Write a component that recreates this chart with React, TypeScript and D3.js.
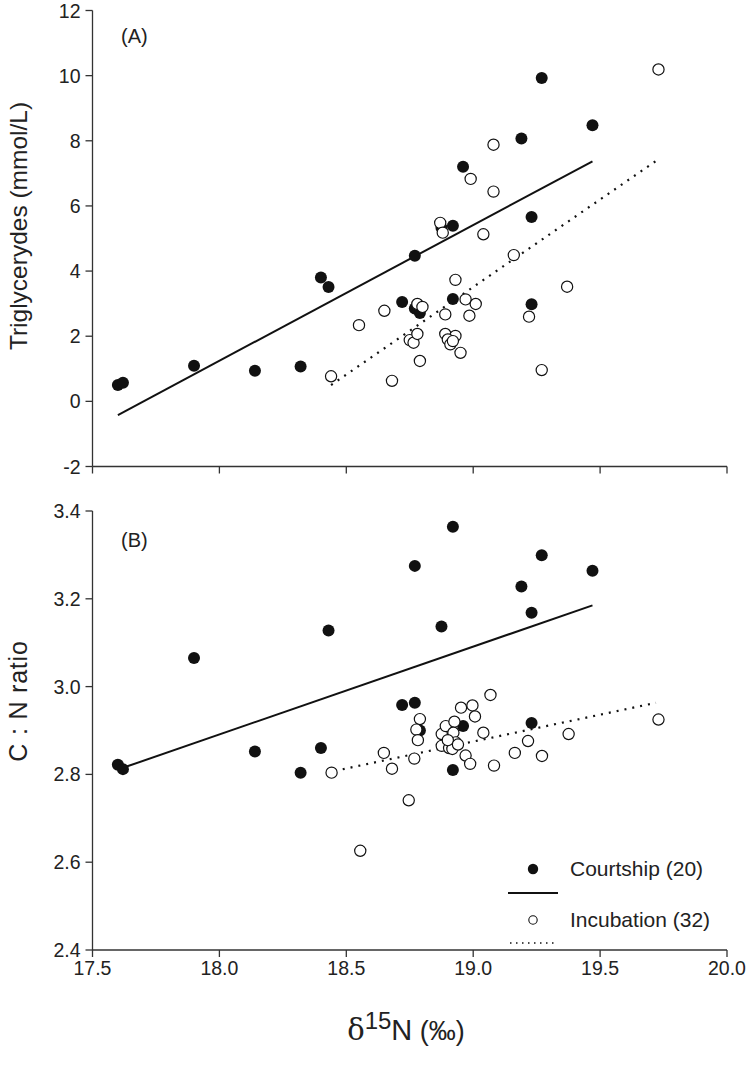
import React from 'react';
import * as d3 from 'd3';

// ---------- data ----------
const xTickValues = [17.5, 18.0, 18.5, 19.0, 19.5, 20.0];
const trigTicks = [-2, 0, 2, 4, 6, 8, 10, 12];
const cnTicks = [2.4, 2.6, 2.8, 3.0, 3.2, 3.4];

const courtshipN15 = [17.60, 17.62, 17.90, 18.14, 18.32, 18.40, 18.43, 18.72, 18.77, 18.77,
  18.79, 18.875, 18.92, 18.92, 18.96, 19.19, 19.23, 19.23, 19.27, 19.47];
const courtshipTG = [0.50, 0.57, 1.09, 0.94, 1.07, 3.80, 3.51, 3.05, 4.47, 2.85,
  2.71, 5.33, 5.39, 3.14, 7.20, 8.07, 5.66, 2.98, 9.93, 8.48];
const courtshipCN = [2.822, 2.812, 3.065, 2.852, 2.804, 2.860, 3.128, 2.958, 2.963, 3.275,
  2.900, 3.137, 3.364, 2.810, 2.910, 3.228, 3.168, 2.917, 3.299, 3.264];

const incubationA_N15 = [18.44, 18.55, 18.65, 18.68, 18.75, 18.765, 18.78, 18.78, 18.79, 18.87,
  18.88, 18.89, 18.89, 18.93, 18.90, 18.91, 18.92, 18.95, 18.93, 18.97,
  18.985, 19.01, 18.99, 19.04, 19.08, 19.08, 19.16, 19.22, 19.27, 19.37,
  19.73, 18.80];
const incubationA_TG = [0.77, 2.34, 2.78, 0.63, 1.88, 1.80, 2.99, 2.07, 1.24, 5.48,
  5.18, 2.67, 2.07, 2.01, 1.90, 1.75, 1.85, 1.49, 3.73, 3.13,
  2.63, 2.99, 6.83, 5.13, 7.88, 6.44, 4.49, 2.60, 0.96, 3.52,
  10.19, 2.90];

const incubationB_N15 = [18.876, 18.892, 18.926, 18.922, 18.931, 18.876, 18.905, 18.918, 18.97, 18.988,
  18.952, 18.997, 19.007, 19.04, 19.082, 19.068, 18.79, 18.776, 18.782, 18.768,
  18.648, 18.68, 18.746, 18.442, 19.164, 19.216, 19.271, 19.376, 18.555, 19.73,
  18.90, 18.94];
const incubationB_CN = [2.892, 2.910, 2.920, 2.895, 2.873, 2.865, 2.860, 2.858, 2.843, 2.824,
  2.952, 2.957, 2.932, 2.895, 2.820, 2.981, 2.926, 2.902, 2.878, 2.836,
  2.849, 2.813, 2.741, 2.804, 2.849, 2.876, 2.842, 2.892, 2.626, 2.925,
  2.878, 2.868];

// fitted regression lines (endpoints)
const fitA_courtship = [[17.60, -0.42], [19.47, 7.37]];
const fitA_incubation = [[18.44, 0.50], [19.72, 7.38]];
const fitB_courtship = [[17.62, 2.815], [19.47, 3.185]];
const fitB_incubation = [[18.455, 2.808], [19.72, 2.963]];

const legendLabels = ['Courtship (20)', 'Incubation (32)'];

// ---------- layout ----------
const W = 749;
const H = 1066;
const left = 92.5;
const right = 727;
const panelA = { top: 10.5, bottom: 466.5 };
const panelB = { top: 511, bottom: 950 };
const FONT = 'Liberation Sans, Arial, Helvetica, sans-serif';
const AX = '#333';

const x = d3.scaleLinear().domain([17.5, 20]).range([left, right]);
const yA = d3.scaleLinear().domain([-2, 12]).range([panelA.bottom, panelA.top]);
const yB = d3.scaleLinear().domain([2.4, 3.4]).range([panelB.bottom, panelB.top]);

function Axes({ y, ticks, bottom, top, showX, fmt }) {
  return (
    <g>
      <line x1={left} x2={left} y1={top} y2={bottom} stroke={AX} strokeWidth={1.3} />
      <line x1={left} x2={right} y1={bottom} y2={bottom} stroke={AX} strokeWidth={1.3} />
      {ticks.map((t) => (
        <g key={'y' + t}>
          <line x1={left - 7} x2={left} y1={y(t)} y2={y(t)} stroke={AX} strokeWidth={1.3} />
          <text x={left - 12} y={y(t)} dy="0.36em" textAnchor="end" fontSize={19.5} fontFamily={FONT} fill="#222">
            {fmt(t)}
          </text>
        </g>
      ))}
      {xTickValues.map((t) => (
        <g key={'x' + t}>
          <line x1={x(t)} x2={x(t)} y1={bottom} y2={bottom + 7} stroke={AX} strokeWidth={1.3} />
          {showX && (
            <text x={x(t)} y={bottom + 25} textAnchor="middle" fontSize={19.5} fontFamily={FONT} fill="#222">
              {t.toFixed(1)}
            </text>
          )}
        </g>
      ))}
    </g>
  );
}

function Panel({ y, cx, cy, ix, iy, fitC, fitI }) {
  const line = d3.line().x((d) => x(d[0])).y((d) => y(d[1]));
  return (
    <g>
      <path d={line(fitC) || ''} stroke="#111" strokeWidth={2} fill="none" />
      <path d={line(fitI) || ''} stroke="#111" strokeWidth={2.2} fill="none" strokeDasharray="2 6" />
      {cx.map((v, i) => (
        <circle key={'c' + i} cx={x(v)} cy={y(cy[i])} r={6} fill="#111" />
      ))}
      {ix.map((v, i) => (
        <circle key={'i' + i} cx={x(v)} cy={y(iy[i])} r={5.6} fill="#fff" stroke="#111" strokeWidth={1.2} />
      ))}
    </g>
  );
}

export default function App() {
  return (
    <svg width={W} height={H} style={{ position: 'absolute', left: 0, top: 0, background: '#fff' }}>
      <rect x={0} y={0} width={W} height={H} fill="#fff" />
      <Axes y={yA} ticks={trigTicks} bottom={panelA.bottom} top={panelA.top} showX={false} fmt={(t) => String(t)} />
      <Axes y={yB} ticks={cnTicks} bottom={panelB.bottom} top={panelB.top} showX={true} fmt={(t) => t.toFixed(1)} />
      <Panel y={yA} cx={courtshipN15} cy={courtshipTG} ix={incubationA_N15} iy={incubationA_TG} fitC={fitA_courtship} fitI={fitA_incubation} />
      <Panel y={yB} cx={courtshipN15} cy={courtshipCN} ix={incubationB_N15} iy={incubationB_CN} fitC={fitB_courtship} fitI={fitB_incubation} />

      <text x={121} y={43} fontSize={20} fontFamily={FONT} fill="#222">(A)</text>
      <text x={121} y={547} fontSize={20} fontFamily={FONT} fill="#222">(B)</text>

      <text transform="translate(27,226) rotate(-90)" textAnchor="middle" fontSize={24.5} fontFamily={FONT} fill="#222">
        Triglycerydes (mmol/L)
      </text>
      <text transform="translate(27,701) rotate(-90)" textAnchor="middle" fontSize={25} fontFamily={FONT} fill="#222" letterSpacing={0.8}>
        C : N ratio
      </text>

      <text x={406} y={1040} textAnchor="middle" fontFamily={FONT} fill="#222">
        <tspan fontSize={29} fontFamily="DejaVu Serif, serif">δ</tspan>
        <tspan fontSize={24} dy={-11}>15</tspan>
        <tspan fontSize={29} dy={11}>N</tspan>
        <tspan fontSize={27}> (‰)</tspan>
      </text>

      {/* legend */}
      <circle cx={533} cy={869} r={5.2} fill="#111" />
      <text x={570} y={876} fontSize={21} fontFamily={FONT} fill="#222">{legendLabels[0]}</text>
      <line x1={508} x2={558} y1={893} y2={893} stroke="#111" strokeWidth={2} />
      <circle cx={533} cy={920} r={4.2} fill="#fff" stroke="#111" strokeWidth={1.1} />
      <text x={570} y={927} fontSize={21} fontFamily={FONT} fill="#222">{legendLabels[1]}</text>
      <line x1={510} x2={558} y1={943} y2={943} stroke="#111" strokeWidth={1.5} strokeDasharray="1.5 4.5" />
    </svg>
  );
}
